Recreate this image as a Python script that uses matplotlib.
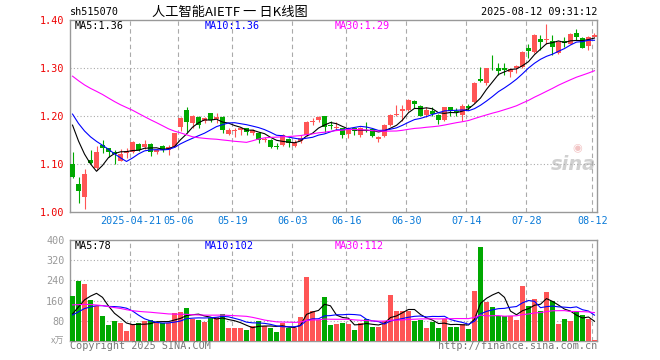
import matplotlib
matplotlib.use("Agg")
import matplotlib.pyplot as plt
import numpy as np
import pandas as pd

W, H = 660, 360

# daily K-line, 2025-04-07 .. 2025-08-12 (88 sessions)
open_ = [1.100, 1.058, 1.032, 1.108, 1.092, 1.140, 1.133, 1.124, 1.107, 1.123,
         1.124, 1.142, 1.136, 1.142, 1.124, 1.137, 1.129, 1.136, 1.178, 1.212,
         1.185, 1.197, 1.190, 1.206, 1.194, 1.197, 1.163, 1.169, 1.170, 1.174,
         1.165, 1.165, 1.151, 1.150, 1.137, 1.140, 1.153, 1.137, 1.147, 1.160,
         1.188, 1.192, 1.199, 1.181, 1.175, 1.174, 1.162, 1.174, 1.160, 1.176,
         1.173, 1.152, 1.158, 1.181, 1.202, 1.210, 1.212, 1.231, 1.221, 1.202,
         1.210, 1.202, 1.192, 1.218, 1.211, 1.202, 1.221, 1.229, 1.278, 1.268,
         1.301, 1.300, 1.301, 1.292, 1.299, 1.303, 1.342, 1.333, 1.361, 1.358,
         1.357, 1.331, 1.356, 1.351, 1.372, 1.362, 1.346, 1.365]
high = [1.124, 1.072, 1.089, 1.129, 1.137, 1.150, 1.134, 1.129, 1.131, 1.133,
        1.147, 1.143, 1.149, 1.143, 1.131, 1.139, 1.140, 1.165, 1.197, 1.218,
        1.202, 1.199, 1.197, 1.207, 1.206, 1.199, 1.175, 1.174, 1.176, 1.176,
        1.172, 1.167, 1.157, 1.153, 1.143, 1.162, 1.154, 1.150, 1.160, 1.190,
        1.195, 1.199, 1.200, 1.190, 1.188, 1.176, 1.178, 1.176, 1.178, 1.188,
        1.174, 1.159, 1.183, 1.205, 1.223, 1.222, 1.235, 1.233, 1.223, 1.218,
        1.218, 1.204, 1.219, 1.219, 1.216, 1.225, 1.226, 1.271, 1.303, 1.300,
        1.328, 1.310, 1.311, 1.299, 1.306, 1.335, 1.351, 1.371, 1.369, 1.392,
        1.368, 1.356, 1.364, 1.372, 1.382, 1.365, 1.367, 1.372]
low = [1.071, 1.019, 1.006, 1.101, 1.087, 1.122, 1.115, 1.101, 1.106, 1.113,
       1.122, 1.128, 1.131, 1.117, 1.121, 1.126, 1.119, 1.135, 1.169, 1.167,
       1.176, 1.174, 1.185, 1.188, 1.185, 1.164, 1.161, 1.157, 1.160, 1.160,
       1.160, 1.144, 1.146, 1.133, 1.131, 1.138, 1.136, 1.135, 1.143, 1.159,
       1.181, 1.188, 1.166, 1.173, 1.171, 1.155, 1.155, 1.160, 1.157, 1.167,
       1.157, 1.145, 1.157, 1.180, 1.199, 1.190, 1.211, 1.216, 1.199, 1.197,
       1.199, 1.183, 1.190, 1.199, 1.199, 1.190, 1.213, 1.228, 1.271, 1.265,
       1.296, 1.285, 1.285, 1.282, 1.290, 1.301, 1.320, 1.332, 1.338, 1.350,
       1.328, 1.329, 1.344, 1.350, 1.358, 1.341, 1.338, 1.364]
close = [1.073, 1.044, 1.079, 1.103, 1.125, 1.134, 1.126, 1.121, 1.121, 1.127,
         1.145, 1.129, 1.142, 1.124, 1.129, 1.129, 1.136, 1.164, 1.195, 1.188,
         1.200, 1.182, 1.195, 1.192, 1.198, 1.170, 1.171, 1.170, 1.174, 1.167,
         1.171, 1.151, 1.153, 1.136, 1.136, 1.160, 1.143, 1.146, 1.154, 1.188,
         1.189, 1.197, 1.178, 1.180, 1.176, 1.160, 1.171, 1.169, 1.176, 1.174,
         1.159, 1.156, 1.181, 1.203, 1.204, 1.214, 1.233, 1.225, 1.201, 1.212,
         1.204, 1.192, 1.218, 1.211, 1.209, 1.221, 1.216, 1.269, 1.272, 1.299,
         1.299, 1.294, 1.296, 1.297, 1.304, 1.333, 1.336, 1.369, 1.354, 1.361,
         1.344, 1.354, 1.353, 1.371, 1.365, 1.342, 1.365, 1.369]
volume = [180, 236, 224, 164, 140, 100, 64, 80, 72, 40,
          68, 72, 80, 84, 76, 72, 72, 112, 116, 132,
          88, 84, 76, 92, 96, 108, 53, 53, 53, 44,
          60, 80, 60, 53, 36, 73, 53, 53, 96, 252,
          120, 84, 176, 64, 69, 73, 69, 44, 72, 89,
          56, 56, 80, 184, 120, 120, 120, 80, 85, 52,
          77, 52, 88, 56, 56, 69, 48, 200, 372, 156,
          136, 100, 100, 100, 84, 216, 140, 168, 120, 196,
          160, 68, 88, 80, 116, 103, 88, 4]

# sessions before the window, only used to warm up the moving averages
prev_close = [1.33, 1.34, 1.32, 1.31, 1.33, 1.35, 1.34, 1.32, 1.30, 1.315,
              1.33, 1.34, 1.32, 1.31, 1.32, 1.33, 1.31, 1.30, 1.31, 1.325,
              1.24, 1.235, 1.225, 1.22, 1.215,
              1.21, 1.215, 1.205, 1.202]
prev_volume = [210, 190, 180, 200, 170, 185, 195, 175, 190, 185,
               150, 140, 130, 145, 135, 140, 130, 135, 140, 137,
               110, 95, 100, 90, 100,
               95, 85, 90, 85]

tick_idx = [10, 18, 27, 37, 46, 56, 66, 76, 87]
tick_labels = ['2025-04-21', '05-06', '05-19', '06-03', '06-16',
               '06-30', '07-14', '07-28', '08-12']

RED = '#ff5555'
GREEN = '#00a800'
GRID = '#aaaaaa'
FRAME = '#999999'
MONO = 'DejaVu Sans Mono'
CJK = ['Noto Sans CJK SC', 'DejaVu Sans']


def moving_avg(prev, cur, n):
    s = pd.Series(list(prev) + list(cur), dtype=float)
    return s.rolling(n).mean().to_numpy()[len(prev):]


def ftext(x, y, s, **kw):
    """text at pixel position (x, y from top)"""
    kw.setdefault('family', MONO)
    kw.setdefault('fontsize', 7.3)
    kw.setdefault('va', 'center')
    fig.text(x / W, 1 - y / H, s, **kw)


def style_axes(ax):
    for sp in ax.spines.values():
        sp.set_color(FRAME)
        sp.set_linewidth(1.0)
    ax.tick_params(length=0)
    for i in tick_idx:
        ax.axvline(i - 0.35, color=GRID, lw=0.8, ls=(0, (4, 3)), zorder=1)


o = np.array(open_)
c = np.array(close)
x = np.arange(len(c))
colors = [RED if cc >= oo else GREEN for oo, cc in zip(o, c)]

fig = plt.figure(figsize=(W / 100, H / 100), dpi=100)

# ---- price panel
ax = fig.add_axes([70 / W, 1 - 212 / H, 527 / W, 192 / H])
style_axes(ax)
for y in [1.1, 1.2, 1.3]:
    ax.axhline(y, color=GRID, lw=0.8, ls=(0, (1, 2)), zorder=1)

ax.vlines(x, low, high, colors=colors, lw=0.8, zorder=3)
body = np.maximum(np.abs(c - o), 0.002)
ax.bar(x, body, bottom=np.minimum(o, c), width=0.82, color=colors, lw=0, zorder=4)

ma5 = moving_avg(prev_close, close, 5)
ma10 = moving_avg(prev_close, close, 10)
ma30 = moving_avg(prev_close, close, 30)
ax.plot(x, ma5, color='black', lw=0.8, zorder=5)
ax.plot(x, ma10, color='#0000ff', lw=0.8, zorder=5)
ax.plot(x, ma30, color='#ff00ff', lw=0.8, zorder=5)

ax.set_xlim(-0.42, len(c) - 0.58)
ax.set_ylim(1.0, 1.4)
ax.set_yticks([1.0, 1.1, 1.2, 1.3, 1.4])
ax.set_yticklabels(['1.00', '1.10', '1.20', '1.30', '1.40'],
                   color='#ee0000', family=MONO, fontsize=7.3)
ax.set_xticks([i - 0.35 for i in tick_idx])
ax.set_xticklabels(tick_labels, color='#0a7ad8', family=MONO, fontsize=7.3)
ax.tick_params(axis='y', pad=4)
ax.tick_params(axis='x', pad=3)

# sina watermark
ax.text(0.955, 0.245, 'sina', transform=ax.transAxes, family='DejaVu Sans',
        fontsize=14, color='#d0d0d0', weight='bold', style='italic',
        ha='center', va='center', zorder=0)
ax.text(0.962, 0.33, '◉', transform=ax.transAxes, family='DejaVu Sans',
        fontsize=8, color='#f2c4c4', ha='center', va='center', zorder=0)

# ---- volume panel
axv = fig.add_axes([70 / W, 1 - 341 / H, 527 / W, 101 / H])
style_axes(axv)
for y in [80, 160, 240, 320]:
    axv.axhline(y, color=GRID, lw=0.8, ls=(0, (1, 2)), zorder=1)
axv.bar(x, volume, width=0.82, color=colors, lw=0, zorder=3)
vma5 = moving_avg(prev_volume, volume, 5)
vma10 = moving_avg(prev_volume, volume, 10)
vma30 = moving_avg(prev_volume, volume, 30)
axv.plot(x, vma5, color='black', lw=0.8, zorder=5)
axv.plot(x, vma10, color='#0000ff', lw=0.8, zorder=5)
axv.plot(x, vma30, color='#ff00ff', lw=0.8, zorder=5)
axv.set_xlim(-0.42, len(c) - 0.58)
axv.set_ylim(0, 400)
axv.set_yticks([80, 160, 240, 320, 400])
axv.set_yticklabels(['80', '160', '240', '320', '400'],
                    color=FRAME, family=MONO, fontsize=7.3)
axv.tick_params(axis='y', pad=4)
axv.set_xticks([])

# ---- texts
ftext(70, 12, 'sh515070')
ftext(230, 12, '人工智能AIETF 一 日K线图', family=CJK, fontsize=9.5, ha='center')
ftext(597, 12, '2025-08-12 09:31:12', ha='right')

ftext(75, 26, f'MA5:{ma5[-1]:.2f}')
ftext(205, 26, f'MA10:{ma10[-1]:.2f}', color='#0000ff')
ftext(335, 26, f'MA30:{ma30[-1]:.2f}', color='#ff00ff')

ftext(75, 246, f'MA5:{int(vma5[-1])}')
ftext(205, 246, f'MA10:{int(vma10[-1])}', color='#0000ff')
ftext(335, 246, f'MA30:{int(vma30[-1])}', color='#ff00ff')

ftext(64, 341, 'x万', family=CJK, fontsize=6.5, color=FRAME, ha='right')
ftext(70, 346, 'Copyright 2025 SINA.COM', color='#777777')
ftext(597, 346, 'http://finance.sina.com.cn', color='#777777', ha='right')

fig.savefig('out.png', dpi=100)
